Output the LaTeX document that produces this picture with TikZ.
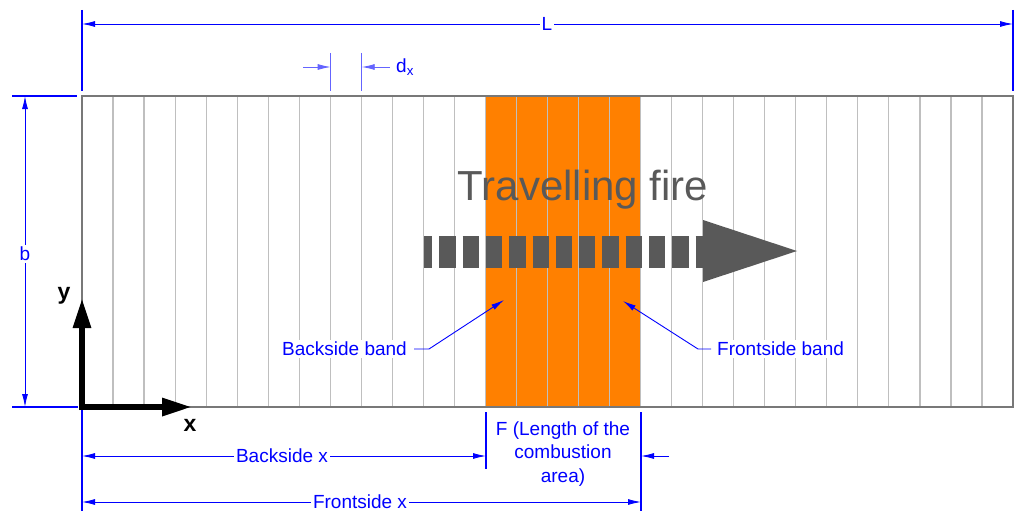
\documentclass[tikz,border=0pt]{standalone}
\usepackage{fontspec}
\setmainfont{Liberation Sans}
\usetikzlibrary{arrows.meta}
\definecolor{dimblue}{RGB}{0,0,255}
\definecolor{lightblue}{RGB}{100,100,255}
\definecolor{gridgray}{RGB}{191,191,191}
\definecolor{edgegray}{RGB}{120,120,120}
\definecolor{firegray}{RGB}{89,89,89}
\definecolor{fireorange}{RGB}{255,128,0}
\tikzset{
  dimtip/.tip={Latex[length=13pt,width=6pt]},
  dimline/.style={dimblue, line width=0.9pt, dimtip-dimtip},
  halfdim/.style={line width=0.9pt, -dimtip},
  extline/.style={dimblue, line width=1.2pt},
  lbl/.style={font=\fontsize{19}{23.5}\selectfont, text=dimblue, fill=white, inner sep=2pt},
  leader/.style={dimblue, line width=0.9pt, -{Latex[length=13pt,width=6pt]}},
  gridline/.style={gridgray, line width=1.2pt},
  axisarrow/.style={black, line width=6pt, -{Triangle[length=30pt,width=17pt]}},
  axislbl/.style={font=\fontsize{23}{26}\selectfont\bfseries, inner sep=0pt}
}
\begin{document}
\begin{tikzpicture}[x=1pt,y=-1pt]
\useasboundingbox (0,0) rectangle (1019,511);
% plate
\coordinate (O) at (82,407);
\coordinate (TL) at (82,96);
\coordinate (TR) at (1013,96);
\coordinate (BR) at (1013,407);
\fill[fireorange] (485.4,96) rectangle (640.6,407);
\foreach \i in {1,...,29}
  \draw[gridline] ({82+\i*31.0333},96) -- ({82+\i*31.0333},407);
\draw[edgegray, line width=1.5pt] (TL) rectangle (BR);
% travelling fire
\node[font=\fontsize{42}{44}\selectfont, text=firegray, inner sep=0pt] (tf) at (583,190) {Travelling fire};
\coordinate (fs) at (424,252);
\coordinate (fe) at (704,252);
\draw[firegray, line width=32pt, dash pattern=on 16.3pt off 7pt, dash phase=8pt] (fs) -- (fe);
\fill[firegray] (703,220) -- (797,251) -- (703,282) -- cycle;
% band labels
\node[lbl, anchor=east] (bb) at (409,349) {Backside band};
\coordinate (bbk) at (429,349);
\coordinate (bbt) at (504,300);
\draw[leader] ([xshift=5pt]bb.east) -- (bbk) -- (bbt);
\node[lbl, anchor=west] (fb) at (715,349) {Frontside band};
\coordinate (fbk) at (698,349);
\coordinate (fbt) at (623,301);
\draw[leader] ([xshift=-4pt]fb.west) -- (fbk) -- (fbt);
% axes
\coordinate (xend) at (192,407);
\coordinate (yend) at (82,298);
\draw[axisarrow] ([xshift=-3pt]O) -- (xend);
\draw[axisarrow] ([yshift=-3pt]O) -- (yend);
\node[axislbl] (xl) at (190,425) {x};
\node[axislbl] (yl) at (64,296) {y};
% L dimension
\coordinate (La) at (82,24);
\coordinate (Lb) at (1013,24);
\draw[extline] (82,10) -- (82,91);
\draw[extline] (1013,10) -- (1013,91);
\draw[dimline] (La) -- (Lb);
\node[lbl] (Ll) at (547,24) {L};
% dx dimension
\coordinate (dxa) at (330.7,67);
\coordinate (dxb) at (361.7,67);
\draw[lightblue, line width=1.2pt] (330.7,53) -- (330.7,91);
\draw[lightblue, line width=1.2pt] (361.7,53) -- (361.7,91);
\draw[halfdim, lightblue] (303,67) -- (dxa);
\draw[halfdim, lightblue] (390,67) -- (dxb);
\node[lbl, anchor=west, inner sep=0pt] (dxl) at (396,67) {d\textsubscript{x}};
% b dimension
\coordinate (ba) at (25,96);
\coordinate (bb2) at (25,407);
\draw[extline] (12,96) -- (77,96);
\draw[extline] (12,407) -- (78,407);
\draw[dimline] (ba) -- (bb2);
\node[lbl] (bl) at (25,254) {b};
% bottom dimensions
\draw[extline] (82,410) -- (82,511);
\draw[extline] (486,412) -- (486,469);
\draw[extline] (641,412) -- (641,511);
\coordinate (bxa) at (82,456);
\coordinate (bxb) at (486,456);
\draw[dimline] (bxa) -- (bxb);
\node[lbl] (bxl) at (282,456) {Backside x};
\coordinate (fxa) at (82,502);
\coordinate (fxb) at (641,502);
\draw[dimline] (fxa) -- (fxb);
\node[lbl] (fxl) at (360,502) {Frontside x};
\coordinate (Fr) at (669,456);
\coordinate (Fe) at (641,456);
\draw[halfdim, dimblue] (Fr) -- (Fe);
\node[lbl, fill=none, align=center] (Fl) at (563,454) {F (Length of the\\combustion\\area)};
\end{tikzpicture}
\end{document}
